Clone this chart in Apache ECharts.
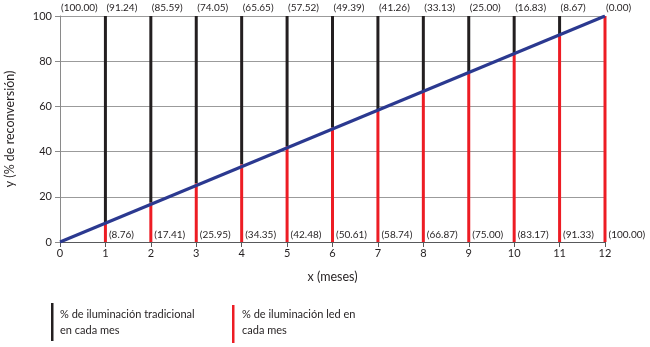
<!DOCTYPE html>
<html>
<head>
<meta charset="utf-8">
<script src="https://cdn.jsdelivr.net/npm/echarts@6/dist/echarts.min.js"></script>
<style>html,body{margin:0;padding:0;background:#fff}#c{width:650px;height:347px}</style>
</head>
<body>
<div id="c"></div>
<script>
const months = [1,2,3,4,5,6,7,8,9,10,11,12];
const ledValues = [8.76,17.41,25.95,34.35,42.48,50.61,58.74,66.87,75.00,83.17,91.33,100.00];
const topMonths = [0,1,2,3,4,5,6,7,8,9,10,11,12];
const topLabels = ['(100.00)','(91.24)','(85.59)','(74.05)','(65.65)','(57.52)','(49.39)','(41.26)','(33.13)','(25.00)','(16.83)','(8.67)','(0.00)'];
const bottomLabels = ['(8.76)','(17.41)','(25.95)','(34.35)','(42.48)','(50.61)','(58.74)','(66.87)','(75.00)','(83.17)','(91.33)','(100.00)'];
const linePoints = [[0,0],[12,100]];

const FONT = 'Lato';
const TXT = '#231f20';
const chart = echarts.init(document.getElementById('c'));
chart.setOption({
  animation:false,
  textStyle:{fontFamily:FONT},
  grid:{left:60,right:45,top:16,bottom:105,containLabel:false,outerBoundsMode:'none'},
  xAxis:{type:'value',min:0,max:12,interval:1,
    name:'x (meses)',nameLocation:'middle',nameGap:28,
    nameTextStyle:{fontSize:12.5,color:TXT,fontFamily:FONT},
    axisLine:{show:true,lineStyle:{color:'#58595b',width:1}},
    axisTick:{show:true,length:5,lineStyle:{color:'#58595b'}},
    axisLabel:{fontSize:11,color:TXT,margin:6,fontFamily:FONT},
    splitLine:{show:false}},
  yAxis:{type:'value',min:0,max:100,interval:20,
    name:'y (% de reconversión)',nameLocation:'middle',nameGap:44,
    nameTextStyle:{fontSize:12.5,color:TXT,fontFamily:FONT},
    axisLine:{show:true,lineStyle:{color:'#8a8a8a',width:1}},
    axisTick:{show:true,length:5,lineStyle:{color:'#8a8a8a'}},
    axisLabel:{fontSize:11,color:TXT,margin:8,fontFamily:FONT},
    splitLine:{show:true,lineStyle:{color:'#9b9b9b',width:1}}},
  series:[
    {type:'custom',data:months.map((m,i)=>[m,ledValues[i]]),z:2,
      renderItem:(params,api)=>{
        const x=api.value(0), v=api.value(1);
        const p0=api.coord([x,0]), p1=api.coord([x,v]), p2=api.coord([x,100]);
        return {type:'group',children:[
          {type:'line',shape:{x1:p2[0],y1:p2[1],x2:p1[0],y2:p1[1]},style:{stroke:'#231f20',lineWidth:3}},
          {type:'line',shape:{x1:p1[0],y1:p1[1],x2:p0[0],y2:p0[1]},style:{stroke:'#ed1c24',lineWidth:3}}
        ]};
      }},
    {type:'line',data:linePoints,symbol:'none',z:3,lineStyle:{color:'#2b3990',width:3}},
    {type:'custom',data:topMonths.map((m,i)=>[m,100]),z:4,
      renderItem:(params,api)=>{
        const p=api.coord([api.value(0),100]);
        return {type:'text',x:p[0]+1,y:p[1]-8,style:{text:topLabels[params.dataIndex],font:'10px '+FONT,fill:TXT,textAlign:'left',textVerticalAlign:'middle'}};
      }},
    {type:'custom',data:months.map((m,i)=>[m,0]),z:4,
      renderItem:(params,api)=>{
        const p=api.coord([api.value(0),0]);
        return {type:'text',x:p[0]+3.5,y:p[1]-7,style:{text:bottomLabels[params.dataIndex],font:'10px '+FONT,fill:TXT,textAlign:'left',textVerticalAlign:'middle'}};
      }}
  ],
  graphic:[
    {type:'rect',shape:{x:51,y:303,width:2.5,height:38},style:{fill:'#231f20'}},
    {type:'text',x:60,y:306,style:{text:'% de iluminación tradicional\nen cada mes',font:'11px '+FONT,fill:TXT,lineHeight:16.5}},
    {type:'rect',shape:{x:232,y:305,width:2.5,height:38},style:{fill:'#ed1c24'}},
    {type:'text',x:242,y:306,style:{text:'% de iluminación led en\ncada mes',font:'11px '+FONT,fill:TXT,lineHeight:16.5}}
  ]
});
</script>
</body>
</html>
